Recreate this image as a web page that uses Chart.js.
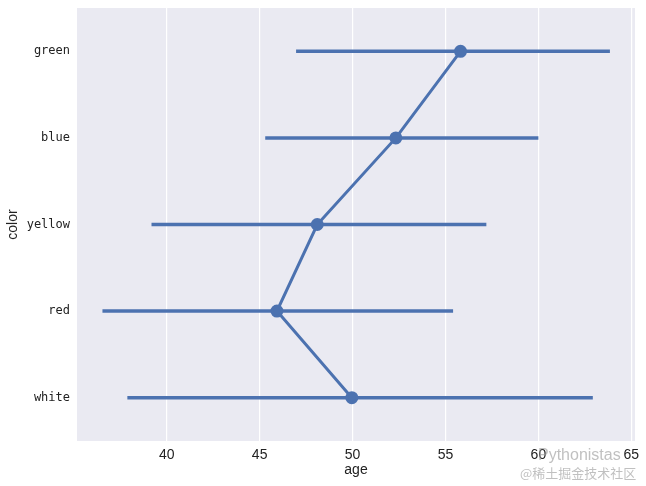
<!DOCTYPE html>
<html>
<head>
<meta charset="utf-8">
<script src="https://cdn.jsdelivr.net/npm/chart.js@4/dist/chart.umd.min.js"></script>
<style>
html,body{margin:0;padding:0;background:#fff;}
#wrap{width:646px;height:486px;}
</style>
</head>
<body>
<div id="wrap"><canvas id="c" width="646" height="486"></canvas></div>
<script>
const categories = ["green", "blue", "yellow", "red", "white"];
const meanAge = [55.81, 52.33, 48.10, 45.93, 49.96];
const ciLow = [46.96, 45.30, 39.18, 36.54, 37.88];
const ciHigh = [63.85, 60.00, 57.20, 55.41, 62.93];
const xTicks = [40, 45, 50, 55, 60, 65];

const blue = "#4c72b0";
const datasets = [];
categories.forEach((c, i) => {
  datasets.push({
    data: [{x: ciLow[i], y: i}, {x: ciHigh[i], y: i}],
    borderColor: blue, borderWidth: 3.5, pointRadius: 0, showLine: true,
    borderCapStyle: 'butt', order: 2
  });
});
datasets.push({
  data: categories.map((c, i) => ({x: meanAge[i], y: i})),
  borderColor: blue, backgroundColor: blue, borderWidth: 3, pointRadius: 5,
  pointHoverRadius: 5, showLine: true, order: 1
});

const bgPlugin = {
  id: 'bg',
  beforeDraw(chart) {
    const {ctx, chartArea: a} = chart;
    ctx.save();
    ctx.fillStyle = "#eaeaf2";
    ctx.fillRect(a.left, a.top, a.right - a.left, a.bottom - a.top);
    ctx.restore();
  },
  afterDraw(chart) {
    const ctx = chart.ctx;
    ctx.save();
    ctx.fillStyle = "rgba(150,150,150,0.6)";
    ctx.textBaseline = "middle";
    ctx.font = "16px 'Liberation Sans', sans-serif";
    ctx.fillText("Pythonistas", 538, 456);
    ctx.font = "13px 'Noto Sans CJK SC', sans-serif";
    ctx.fillText("@稀土掘金技术社区", 520, 473);
    ctx.restore();
  }
};

new Chart(document.getElementById('c'), {
  type: 'scatter',
  data: {datasets},
  options: {
    responsive: false,
    animation: false,
    events: [],
    layout: {padding: {left: 0, right: 11, top: 7, bottom: 0}},
    plugins: {legend: {display: false}, tooltip: {enabled: false}},
    scales: {
      x: {
        type: 'linear', min: 35.17, max: 65.2,
        afterBuildTicks(s) { s.ticks = xTicks.map(v => ({value: v})); },
        afterFit(s) { s.height = 45; },
        grid: {color: "#ffffff", lineWidth: 1.2, drawTicks: false},
        border: {display: false},
        ticks: {color: "#222", padding: 6, font: {family: "'Liberation Sans Narrow','Liberation Sans',sans-serif", size: 14}},
        title: {display: true, text: "age", color: "#222", padding: {top: 0, bottom: 7}, font: {family: "'Liberation Sans',sans-serif", size: 14}}
      },
      y: {
        type: 'linear', min: -0.5, max: 4.5, reverse: true,
        afterBuildTicks(s) { s.ticks = categories.map((c, i) => ({value: i})); },
        afterFit(s) { s.width = 77; s.paddingTop = 0; s.paddingBottom = 0; },
        grid: {display: false, drawTicks: false},
        border: {display: false},
        ticks: {color: "#222", padding: 7, callback: (v) => categories[v] ?? "",
          font: {family: "'DejaVu Sans Mono',monospace", size: 12}},
        title: {display: true, text: "color", color: "#222", padding: {top: 5, bottom: 4}, font: {family: "'Liberation Sans',sans-serif", size: 14}}
      }
    }
  },
  plugins: [bgPlugin]
});
</script>
</body>
</html>
